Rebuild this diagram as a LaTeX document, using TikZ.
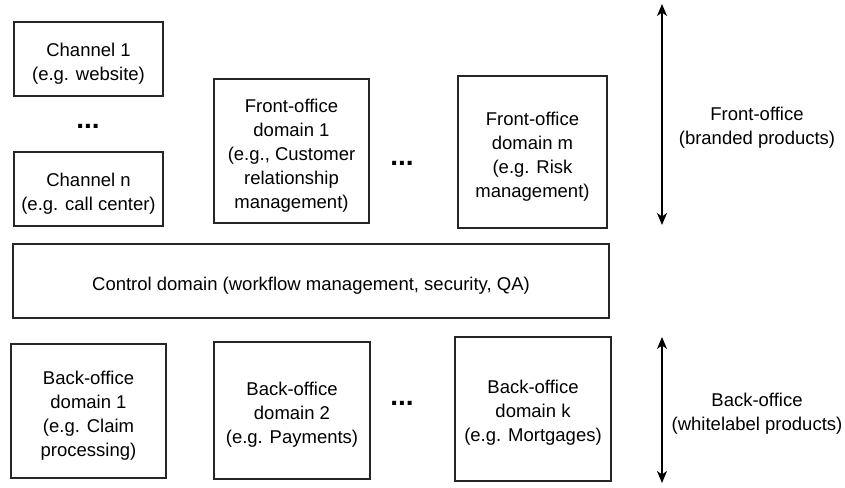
\documentclass[tikz,border=0pt]{standalone}
\usepackage{fontspec}
\setmainfont{Liberation Sans}
\usetikzlibrary{arrows.meta}
\begin{document}
\begin{tikzpicture}[x=1pt,y=-1pt,
  box/.style={draw=black!85,line width=1.2pt,inner sep=0pt},
  txt/.style={inner sep=0pt,align=center,font=\fontsize{18.5}{24}\selectfont},
  dots/.style={inner sep=0pt,anchor=base,font=\fontsize{28}{30}\selectfont\bfseries},
  span/.style={line width=1.3pt,{Stealth[length=12pt,width=10pt,inset=3.5pt]}-{Stealth[length=12pt,width=10pt,inset=3.5pt]}}]
\useasboundingbox (0,0) rectangle (845,487);
\node[box,minimum width=149pt,minimum height=74pt] (ch1) at (88.5,59) {};
\node[txt] (ch1t) at ([yshift=-5pt]ch1.center) {Channel 1\\(e.g. website)};
\node[dots] (d1) at (88,128) {...};
\node[box,minimum width=149pt,minimum height=74pt] (chn) at (88.5,189) {};
\node[txt] (chnt) at ([yshift=-5pt]chn.center) {Channel n\\(e.g. call center)};
\node[box,minimum width=155pt,minimum height=144pt] (fo1) at (291.5,151) {};
\node[txt] (fo1t) at ([yshift=-5pt]fo1.center) {Front-office\\domain 1\\(e.g., Customer\\relationship\\management)};
\node[dots] (d2) at (402,165) {...};
\node[box,minimum width=149pt,minimum height=152pt] (fom) at (532.5,152) {};
\node[txt] (fomt) at ([yshift=-5pt]fom.center) {Front-office\\domain m\\(e.g. Risk\\management)};
\coordinate (a1t) at (662,4);
\coordinate (a1b) at (662,225);
\draw[span] (a1t) -- (a1b);
\node[txt] (l1) at (757,128) {Front-office\\(branded products)};
\node[box,minimum width=596pt,minimum height=74pt] (ctrl) at (311,281) {};
\node[txt] (ctrlt) at ([yshift=-5pt]ctrl.center) {Control domain (workflow management, security, QA)};
\node[box,minimum width=155pt,minimum height=134pt] (bo1) at (88.5,411) {};
\node[txt] (bo1t) at ([yshift=-5pt]bo1.center) {Back-office\\domain 1\\(e.g. Claim\\processing)};
\node[box,minimum width=156pt,minimum height=137pt] (bo2) at (292,410.5) {};
\node[txt] (bo2t) at ([yshift=-4pt]bo2.center) {Back-office\\domain 2\\(e.g. Payments)};
\node[dots] (d3) at (402,405) {...};
\node[box,minimum width=156pt,minimum height=144pt] (bok) at (533,409) {};
\node[txt] (bokt) at ([yshift=-4pt]bok.center) {Back-office\\domain k\\(e.g. Mortgages)};
\coordinate (a2t) at (662,337);
\coordinate (a2b) at (662,483);
\draw[span] (a2t) -- (a2b);
\node[txt] (l2) at (757,414) {Back-office\\(whitelabel products)};
\end{tikzpicture}
\end{document}
